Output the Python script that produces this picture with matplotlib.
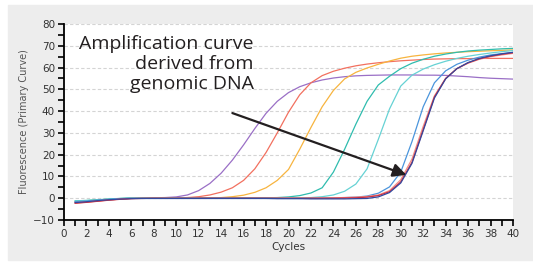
import matplotlib
matplotlib.use("Agg")
import matplotlib.pyplot as plt
from matplotlib.patches import Rectangle
from matplotlib.ticker import MultipleLocator

cycles = list(range(1, 41))

# fluorescence per cycle
purple = [-1.8, -1.5, -1.0, -0.6, -0.3, 0.0, 0.1, 0.2, 0.3, 0.6,
          1.5, 3.5, 6.8, 11.5, 17.5, 24.5, 32.0, 39.0, 44.5, 48.5,
          51.2, 53.0, 54.3, 55.2, 55.8, 56.2, 56.4, 56.5, 56.6, 56.6,
          56.6, 56.5, 56.5, 56.4, 56.1, 55.8, 55.4, 55.1, 54.9, 54.7]
salmon = [-2.2, -1.8, -1.3, -0.8, -0.4, -0.1, 0.0, 0.0, 0.0, 0.1,
          0.3, 0.7, 1.5, 2.8, 4.8, 8.2, 13.5, 21.0, 30.0, 39.5,
          47.5, 53.0, 56.3, 58.3, 59.7, 60.8, 61.6, 62.2, 62.7, 63.1,
          63.4, 63.7, 63.9, 64.0, 64.1, 64.1, 64.2, 64.2, 64.2, 64.2]
orange = [-1.5, -1.2, -0.8, -0.5, -0.2, 0.0, 0.0, 0.0, 0.0, 0.0,
          0.0, 0.0, 0.1, 0.3, 0.7, 1.4, 2.7, 4.8, 8.2, 13.2,
          22.5, 32.5, 42.0, 49.5, 54.8, 57.8, 59.8, 61.5, 63.0, 64.3,
          65.2, 65.8, 66.3, 66.7, 67.0, 67.3, 67.5, 67.7, 67.9, 68.1]
teal = [-1.2, -1.0, -0.7, -0.4, -0.1, 0.1, 0.2, 0.2, 0.2, 0.2,
        0.2, 0.2, 0.2, 0.2, 0.2, 0.2, 0.2, 0.2, 0.3, 0.6,
        1.2, 2.4, 4.8, 12.0, 22.5, 34.0, 44.5, 52.0, 56.0, 59.5,
        62.0, 63.8, 65.2, 66.2, 67.0, 67.6, 68.0, 68.3, 68.6, 68.8]
cyan = [-1.3, -1.1, -0.8, -0.4, -0.1, 0.0, 0.0, 0.0, 0.0, 0.0,
        0.0, 0.0, 0.0, 0.0, 0.0, 0.0, 0.0, 0.0, 0.0, 0.1,
        0.2, 0.3, 0.7, 1.5, 3.2, 6.5, 13.5, 27.0, 41.0, 51.5,
        56.5, 59.3, 61.3, 62.9, 64.2, 65.2, 66.0, 66.7, 67.3, 67.8]
blue = [-1.6, -1.3, -0.9, -0.5, -0.2, 0.0, -0.1, -0.1, -0.1, -0.1,
        -0.1, -0.1, -0.1, -0.1, -0.1, -0.1, -0.1, -0.1, -0.1, -0.1,
        -0.1, 0.0, 0.1, 0.2, 0.3, 0.5, 1.0, 2.3, 5.2, 12.0,
        26.0, 42.0, 53.0, 58.5, 61.5, 63.4, 64.8, 65.8, 66.4, 66.9]
pink = [-2.0, -1.7, -1.2, -0.8, -0.4, -0.1, 0.0, 0.0, 0.0, 0.0,
        0.0, 0.0, 0.0, 0.0, 0.0, 0.0, 0.0, 0.0, 0.0, 0.0,
        0.0, 0.0, 0.1, 0.2, 0.3, 0.5, 0.8, 1.5, 3.5, 8.5,
        18.0, 33.0, 47.0, 55.0, 59.5, 62.0, 63.8, 65.0, 65.8, 66.5]
crimson = [-2.3, -1.9, -1.4, -0.9, -0.5, -0.2, -0.1, 0.0, 0.0, 0.0,
           0.0, 0.0, 0.0, 0.0, 0.0, 0.0, 0.0, 0.0, 0.0, 0.0,
           0.0, 0.0, 0.0, 0.0, 0.1, 0.2, 0.5, 1.2, 3.0, 7.5,
           16.5, 31.5, 46.5, 55.0, 59.5, 62.2, 64.0, 65.2, 66.1, 66.8]
navy = [-2.0, -1.6, -1.1, -0.7, -0.4, -0.2, -0.1, -0.1, -0.1, -0.1,
        -0.1, -0.1, -0.1, -0.1, -0.1, -0.1, -0.1, -0.1, -0.2, -0.2,
        -0.2, -0.3, -0.3, -0.3, -0.3, -0.2, -0.1, 0.6, 2.6, 7.0,
        16.0, 31.0, 46.0, 54.8, 59.5, 62.3, 64.2, 65.4, 66.3, 67.0]

series = [
    (purple, "#9a6fc6"),
    (salmon, "#f2705f"),
    (orange, "#f7b43f"),
    (teal, "#2fbcae"),
    (cyan, "#66d2d4"),
    (blue, "#4a95dc"),
    (pink, "#f28f88"),
    (crimson, "#cf2f40"),
    (navy, "#33489e"),
]

fig = plt.figure(figsize=(5.33, 2.66), dpi=100)
fig.patches.append(Rectangle((8 / 533, 6 / 266), 1, 1 - 11 / 266,
                             transform=fig.transFigure, color="#ededed",
                             zorder=-10))

ax = fig.add_axes([64 / 533, 1 - 220 / 266, 449 / 533, 196 / 266])
ax.set_zorder(1)
ax.set_facecolor("white")

for vals, col in series:
    ax.plot(cycles, vals, color=col, lw=0.9)

ax.set_xlim(0, 40)
ax.set_ylim(-10, 80)
ax.xaxis.set_major_locator(MultipleLocator(2))
ax.xaxis.set_minor_locator(MultipleLocator(1))
ax.yaxis.set_major_locator(MultipleLocator(10))
ax.yaxis.set_minor_locator(MultipleLocator(5))
ax.tick_params(which="both", direction="out", length=4.5, width=1.2,
               color="black", labelsize=7.5, labelcolor="#333333", pad=2)

for s in ["top", "right"]:
    ax.spines[s].set_visible(False)
for s in ["left", "bottom"]:
    ax.spines[s].set_linewidth(1.3)

for v in range(0, 81, 10):
    ax.axhline(v, color="#d4d4d4", lw=0.8, ls=(0, (3, 2)), zorder=0)

ax.set_xlabel("Cycles", fontsize=7.5, color="#333333", labelpad=2)
ax.set_ylabel("Fluorescence (Primary Curve)", fontsize=7, color="#555555",
              labelpad=3)

ax.text(16.9, 75.0, "Amplification curve\nderived from\ngenomic DNA",
        ha="right", va="top", fontsize=14, family="Open Sans",
        color="#231f20", linespacing=1.15)
ax.annotate("", xy=(30.5, 10.7), xytext=(15.0, 39.1),
            arrowprops=dict(arrowstyle="-|>", lw=1.6, color="#231f20",
                            mutation_scale=20, shrinkA=0, shrinkB=0))

fig.savefig("out.png", dpi=100)
